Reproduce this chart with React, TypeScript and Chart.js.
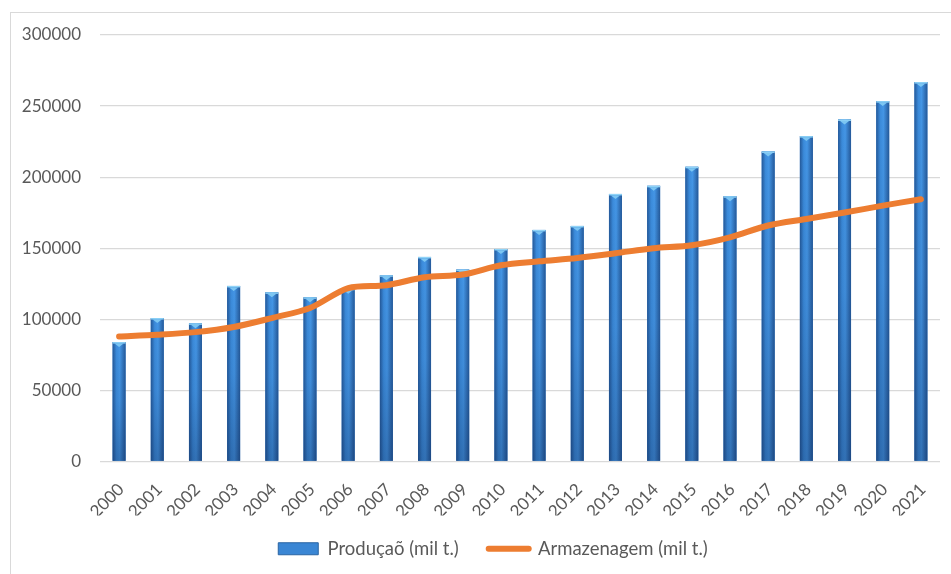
import React, { useEffect, useRef } from "react";
import { Chart, registerables } from "chart.js";

Chart.register(...registerables);

const years = ["2000","2001","2002","2003","2004","2005","2006","2007","2008","2009","2010","2011","2012","2013","2014","2015","2016","2017","2018","2019","2020","2021"];
const producao = [84000,100900,97200,123500,119000,115500,121500,131000,143900,135000,149500,162900,165700,188200,193900,207300,186600,218100,228900,240600,253500,266900];
const armazenagem = [88000,89200,91000,94600,100900,108000,122000,124000,129600,131500,138000,140800,143200,146500,150000,152100,157700,166000,170600,175100,180000,184500];
const yTicks = [0,50000,100000,150000,200000,250000,300000];

const FONT = "Lato, 'Open Sans', sans-serif";
const TEXT = "#595959";

const barGradientPlugin = {
  id: "barGradient",
  afterDatasetDraw(chart: any, args: any) {
    if (args.index !== 0) return;
    const ctx = chart.ctx;
    const meta = args.meta;
    ctx.save();
    meta.data.forEach((el: any) => {
      const { x, y, base, width } = el.getProps(["x", "y", "base", "width"], true);
      const l = x - width / 2;
      const r = x + width / 2;
      const h = base - y;
      const g = ctx.createLinearGradient(l, 0, r, 0);
      g.addColorStop(0, "#24599a");
      g.addColorStop(0.3, "#3b8bdb");
      g.addColorStop(0.55, "#4496e6");
      g.addColorStop(1, "#24599a");
      ctx.fillStyle = g;
      ctx.fillRect(l, y, width, h);
      const v = ctx.createLinearGradient(0, y, 0, base);
      v.addColorStop(0, "rgba(0,0,0,0)");
      v.addColorStop(0.5, "rgba(10,30,70,0.08)");
      v.addColorStop(1, "rgba(10,30,70,0.3)");
      ctx.fillStyle = v;
      ctx.fillRect(l, y, width, h);
      ctx.fillStyle = "#8fd3f7";
      ctx.fillRect(l, y, width, 1.5);
      ctx.beginPath();
      ctx.moveTo(l + 2, y + 1.5);
      ctx.lineTo(r - 2, y + 1.5);
      ctx.lineTo(x, y + 5);
      ctx.closePath();
      ctx.fillStyle = "#7cc6f2";
      ctx.fill();
    });
    ctx.restore();
  },
};

const legendShiftPlugin = {
  id: "legendShift",
  afterLayout(chart: any) {
    const lg = chart.legend;
    if (!lg) return;
    lg.left += 12;
    lg.right += 12;
    lg.top -= 6;
    lg.bottom -= 6;
  },
};

export default function App() {
  const ref = useRef<HTMLCanvasElement | null>(null);
  useEffect(() => {
    if (!ref.current) return;
    const chart = new Chart(ref.current, {
      type: "bar",
      data: {
        labels: years,
        datasets: [
          {
            type: "bar",
            label: "Produçaõ (mil t.)",
            data: producao,
            backgroundColor: "#3a86d4",
            borderColor: "#2a64a3",
            borderWidth: 0,
            barPercentage: 0.34,
            categoryPercentage: 1,
            order: 2,
          },
          {
            type: "line",
            label: "Armazenagem (mil t.)",
            data: armazenagem,
            borderColor: "#ED7D31",
            backgroundColor: "#ED7D31",
            borderWidth: 6,
            borderCapStyle: "round",
            borderJoinStyle: "round",
            pointRadius: 0,
            tension: 0.3,
            order: 1,
          } as any,
        ],
      },
      options: {
        responsive: false,
        animation: false,
        layout: { padding: { left: 22, right: 11, top: 35, bottom: 0 } },
        plugins: {
          tooltip: { enabled: false },
          legend: {
            position: "bottom",
            labels: {
              usePointStyle: true,
              pointStyleWidth: 40,
              boxHeight: 12,
              padding: 30,
              color: TEXT,
              font: { family: FONT, size: 18.5 },
              sort: (a: any, b: any) => a.datasetIndex - b.datasetIndex,
              generateLabels(c: any) {
                const items = Chart.defaults.plugins.legend.labels.generateLabels(c);
                return items.map((it: any) => {
                  if (it.datasetIndex === 0) {
                    return { ...it, pointStyle: "rect", fillStyle: "#3a86d4", strokeStyle: "#2a64a3", lineWidth: 1 };
                  }
                  return { ...it, pointStyle: "line", strokeStyle: "#ED7D31", lineWidth: 6, lineCap: "round" };
                });
              },
            },
          },
        },
        scales: {
          x: {
            grid: { display: false, drawTicks: false },
            border: { display: false },
            afterFit(axis: any) {
              axis.paddingLeft = 0;
              axis.paddingRight = 0;
              axis.height = 54;
            },
            ticks: {
              color: TEXT,
              font: { family: FONT, size: 17 },
              minRotation: 45,
              maxRotation: 45,
              padding: 18,
              labelOffset: 2,
            },
          },
          y: {
            min: 0,
            max: 300000,
            afterBuildTicks(axis: any) {
              axis.ticks = yTicks.map((v) => ({ value: v }));
            },
            afterFit(axis: any) {
              axis.width = 78;
            },
            grid: { color: "#d9d9d9", lineWidth: 1.3, drawTicks: false },
            border: { display: false },
            ticks: {
              color: TEXT,
              font: { family: FONT, size: 17 },
              padding: 19,
              callback: (v: any) => String(v),
            },
          },
        },
      },
      plugins: [barGradientPlugin, legendShiftPlugin],
    });
    return () => chart.destroy();
  }, []);

  return (
    <div style={{ position: "absolute", left: 0, top: 0, width: 951, height: 574, overflow: "hidden", background: "#fff" }}>
      <div style={{ position: "absolute", left: 10, top: 12, width: 1000, height: 700, border: "1px solid #d9d9d9" }} />
      <canvas ref={ref} width={951} height={574} style={{ position: "absolute", left: 0, top: 0 }} />
    </div>
  );
}
